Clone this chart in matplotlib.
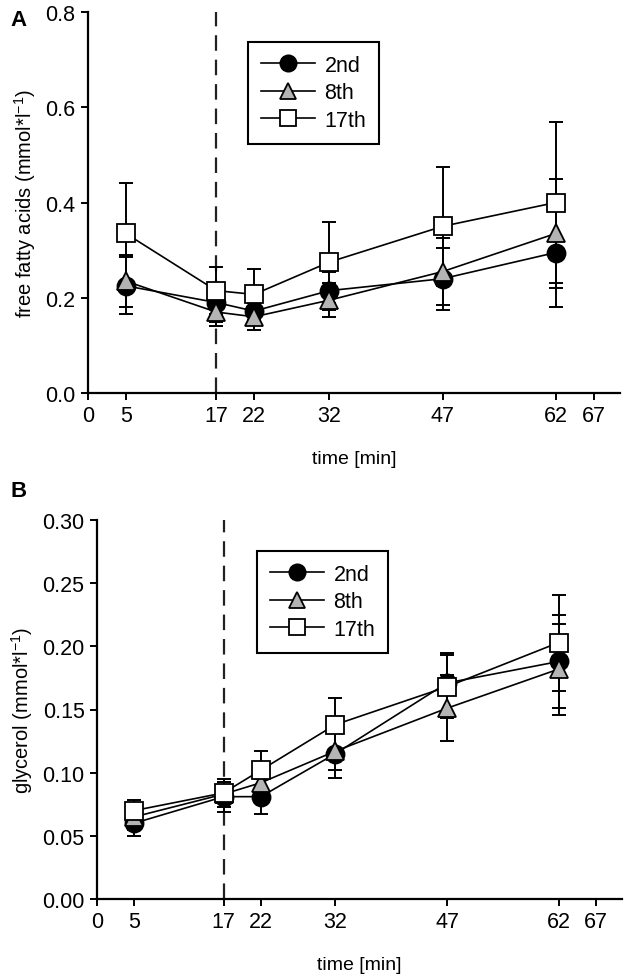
"""
Free fatty acids (A) and glycerol (B) over time
for the 2nd, 8th and 17th session.

Output:
out.png
"""

import matplotlib.pyplot as plt
from matplotlib.ticker import FormatStrFormatter

plt.rcParams["font.family"] = ["Liberation Sans", "DejaVu Sans"]
plt.rcParams["mathtext.fontset"] = "custom"
plt.rcParams["mathtext.rm"] = "Liberation Sans"

time = [5, 17, 22, 32, 47, 62]
xticks = [0, 5, 17, 22, 32, 47, 62, 67]
sessions = ["2nd", "8th", "17th"]

# panel A - free fatty acids (mmol*l-1)
ffa_2nd = [0.225, 0.190, 0.172, 0.215, 0.240, 0.295]
ffa_8th = [0.235, 0.170, 0.160, 0.195, 0.255, 0.335]
ffa_17th = [0.335, 0.215, 0.207, 0.275, 0.350, 0.400]
ffa_2nd_err = [0.060, 0.040, 0.030, 0.040, 0.065, 0.115]
ffa_8th_err = [0.055, 0.030, 0.028, 0.035, 0.070, 0.115]
ffa_17th_err = [0.105, 0.050, 0.053, 0.085, 0.125, 0.170]

# panel B - glycerol (mmol*l-1)
gly_2nd = [0.060, 0.081, 0.081, 0.115, 0.171, 0.188]
gly_8th = [0.065, 0.083, 0.092, 0.117, 0.151, 0.182]
gly_17th = [0.070, 0.084, 0.102, 0.138, 0.168, 0.203]
gly_2nd_err = [0.010, 0.012, 0.014, 0.019, 0.024, 0.037]
gly_8th_err = [0.010, 0.010, 0.010, 0.015, 0.026, 0.036]
gly_17th_err = [0.008, 0.011, 0.015, 0.021, 0.025, 0.038]

STYLES = [
    {"marker": "o", "mfc": "black"},
    {"marker": "^", "mfc": "#b4b4b4"},
    {"marker": "s", "mfc": "white"},
]

W, H = 630, 979


def draw_panel(ax, series, errors, ylim, yticks, fmt, ylabel, legend_xy):

    handles = []

    for values, err, style, name in zip(series, errors, STYLES, sessions):

        ax.errorbar(
            time,
            values,
            yerr=err,
            fmt="none",
            ecolor="black",
            elinewidth=1.4,
            capsize=5,
            capthick=1.4,
            zorder=2,
        )

        (line,) = ax.plot(
            time,
            values,
            color="black",
            linewidth=1.2,
            marker=style["marker"],
            markersize=13,
            markerfacecolor=style["mfc"],
            markeredgecolor="black",
            markeredgewidth=1.3,
            label=name,
            zorder=3,
        )
        handles.append(line)

    ax.axvline(17, color="#222222", linewidth=1.6, dashes=(7, 4), zorder=1)

    ax.set_xlim(0, 70.5)
    ax.set_ylim(*ylim)
    ax.set_xticks(xticks)
    ax.set_yticks(yticks)
    ax.yaxis.set_major_formatter(FormatStrFormatter(fmt))

    for side in ["top", "right"]:
        ax.spines[side].set_visible(False)
    for side in ["left", "bottom"]:
        ax.spines[side].set_linewidth(1.6)

    ax.tick_params(direction="out", length=5, width=1.4, labelsize=15.5, pad=4)
    ax.set_xlabel("time [min]", fontsize=14, labelpad=17)
    ax.set_ylabel(ylabel, fontsize=14.5, labelpad=5)

    leg = ax.legend(
        handles=handles,
        loc="upper left",
        bbox_to_anchor=(legend_xy[0] / W, 1 - legend_xy[1] / H),
        bbox_transform=ax.figure.transFigure,
        borderaxespad=0,
        fontsize=15.5,
        markerscale=0.9,
        handlelength=2.5,
        handletextpad=0.45,
        labelspacing=0.3,
        borderpad=0.6,
        fancybox=False,
        framealpha=1,
        edgecolor="black",
    )
    leg.get_frame().set_linewidth(1.5)


fig = plt.figure(figsize=(W / 100, H / 100), dpi=100)

ax_a = fig.add_axes([88 / W, 1 - 394 / H, (620 - 88) / W, (394 - 13) / H])
ax_b = fig.add_axes([97 / W, 1 - 900 / H, (622 - 97) / W, (900 - 521) / H])

draw_panel(
    ax_a,
    [ffa_2nd, ffa_8th, ffa_17th],
    [ffa_2nd_err, ffa_8th_err, ffa_17th_err],
    (0, 0.8),
    [0.0, 0.2, 0.4, 0.6, 0.8],
    "%.1f",
    r"free fatty acids (mmol*l$^{\mathregular{-1}}$)",
    (248, 43),
)

draw_panel(
    ax_b,
    [gly_2nd, gly_8th, gly_17th],
    [gly_2nd_err, gly_8th_err, gly_17th_err],
    (0, 0.30),
    [0.00, 0.05, 0.10, 0.15, 0.20, 0.25, 0.30],
    "%.2f",
    r"glycerol (mmol*l$^{\mathregular{-1}}$)",
    (257, 552),
)

fig.text(10 / W, 1 - 20 / H, "A", fontsize=16, fontweight="bold", va="center")
fig.text(10 / W, 1 - 492 / H, "B", fontsize=16, fontweight="bold", va="center")

fig.savefig("out.png", dpi=100)
plt.close(fig)
